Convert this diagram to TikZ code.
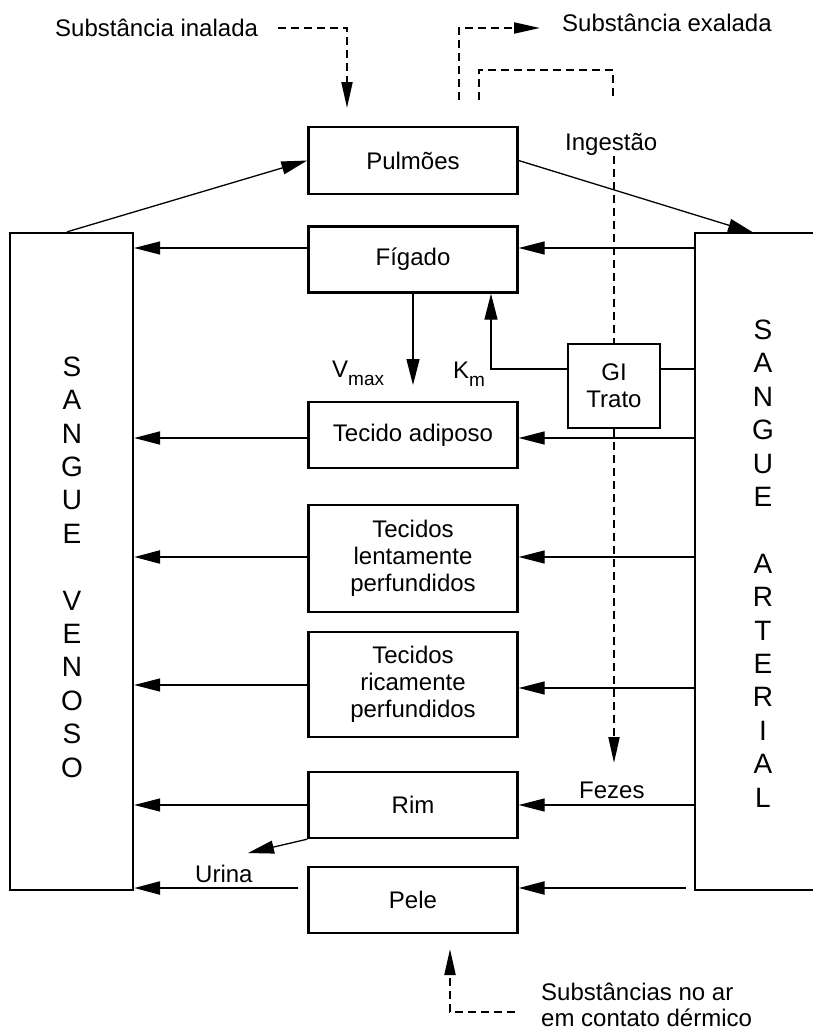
\documentclass[tikz,border=0pt]{standalone}
\usepackage{fontspec}
\setmainfont{Liberation Sans}
\usetikzlibrary{arrows.meta}
\newcommand\labfont{\fontsize{24pt}{27pt}\selectfont}
\newcommand\subfont{\fontsize{19pt}{19pt}\selectfont}
\newcommand\bigletters{\fontsize{28pt}{33.4pt}\selectfont}

\begin{document}
\begin{tikzpicture}[x=1pt,y=-1pt,
  organ/.style={draw, line width=2.3pt, minimum width=209pt, minimum height=66pt,
                inner sep=0pt, align=center, font=\labfont},
  txt/.style={inner sep=0pt, font=\labfont, anchor=base west},
  column/.style={inner sep=0pt, align=center, font=\bigletters},
  wire/.style={line width=1.3pt},
  flow/.style={line width=1.3pt, -{Triangle[length=26pt,width=13pt]}},
  flowmid/.style={flow, line width=1.9pt},
  flowthick/.style={flow, line width=2.4pt},
  dashflow/.style={line width=2pt, dash pattern=on 8pt off 5pt},
  dhead/.style={-{Triangle[length=26pt,width=11pt]}},
]
\fill[white] (0,0) rectangle (813,1033);
\useasboundingbox (0,0) rectangle (813,1033);

% organ compartments
\node[organ, minimum height=67pt] (pulmoes) at (413,160.5) {Pulmões};
\node[organ] (figado)  at (413,259.5) {Fígado};
\node[organ] (adiposo) at (413,435)   {Tecido adiposo};
\node[organ, minimum height=107pt] (lento) at (413,558.5) {Tecidos\\lentamente\\perfundidos};
\node[organ, minimum height=105pt] (rico)  at (413,684.5) {Tecidos\\ricamente\\perfundidos};
\node[organ] (rim)  at (413,805) {Rim};
\node[organ] (pele) at (413,900) {Pele};
\node[organ, minimum width=92pt, minimum height=84pt] (gi) at (614,386) {GI\\Trato};

% blood pools
\node[draw, line width=2.3pt, minimum width=123pt, minimum height=657pt, inner sep=0pt]
  (venoso) at (71.5,561.5) {};
\node[minimum width=118pt, minimum height=657pt, inner sep=0pt, outer sep=0pt]
  (arterial) at (754,561.5) {};
\draw[line width=2.3pt] (arterial.north east) -- (arterial.north west)
  -- (arterial.south west) -- (arterial.south east);
\node[column] (venosotxt) at (72,567)
  {S\\A\\N\\G\\U\\E\\[33.4pt]V\\E\\N\\O\\S\\O};
\node[column] (arterialtxt) at (763,563.5)
  {S\\A\\N\\G\\U\\E\\[33.4pt]A\\R\\T\\E\\R\\I\\A\\L};

% free labels
\node[txt] (inal)   at (55,37)    {Substância inalada};
\node[txt] (exal)   at (562,32)   {Substância exalada};
\node[txt] (ingest) at (565,150)  {Ingestão};
\node[txt] (fezes)  at (579,798)  {Fezes};
\node[txt] (urina)  at (195,882)  {Urina};
\node[txt] (dermA)  at (541,1000) {Substâncias no ar};
\node[txt] (dermB)  at (541,1026) {em contato dérmico};
\node[txt] (vmax)   at (332,377)  {V\raisebox{-8pt}{\subfont max}};
\node[txt] (km)     at (453,378)  {K\raisebox{-8pt}{\subfont m}};

% pulmonary loop
\draw[flow] ([xshift=-4.5pt]venoso.north) -- (pulmoes.west);
\draw[flow] (pulmoes.east) -- (arterial.north);

% venous return
\draw[flow]      (figado.west |- 0,248)  -- (venoso.east |- 0,248);
\draw[flowmid]   (adiposo.west |- 0,438) -- (venoso.east |- 0,438);
\draw[flowthick] (lento.west |- 0,557)   -- (venoso.east |- 0,557);
\draw[flow]      (rico.west |- 0,685)    -- (venoso.east |- 0,685);
\draw[flow]      (rim.west |- 0,805)     -- (venoso.east |- 0,805);
\draw[flowthick] ([xshift=-9pt]pele.west |- 0,888) -- (venoso.east |- 0,888);

% arterial supply
\draw[flow]      (arterial.west |- 0,248) -- (figado.east |- 0,248);
\draw[flow]      (arterial.west |- 0,438) -- (adiposo.east |- 0,438);
\draw[flow]      (arterial.west |- 0,557) -- (lento.east |- 0,557);
\draw[flow]      (arterial.west |- 0,688) -- (rico.east |- 0,688);
\draw[flow]      (arterial.west |- 0,805) -- (rim.east |- 0,805);
\draw[flowthick] ([xshift=-9pt]arterial.west |- 0,888) -- (pele.east |- 0,888);
\draw[wire]      (arterial.west |- 0,369) -- (gi.east |- 0,369);
\coordinate (fzA) at (563,805);
\coordinate (fzB) at (648,805);
\draw[line width=2.4pt] (fzA) -- (fzB);

% hepatic metabolism and GI uptake
\draw[flow] (figado.south) -- (figado.south |- 0,385);
\draw[flow] (gi.west |- 0,369) -| (figado.south -| 491,0);

% urine
\coordinate (urTip) at (248,853);
\draw[flow] (rim.south west) -- (urTip);

% exposure and elimination routes (dashed)
\coordinate (inA) at (278,28);
\coordinate (inB) at (347,108);
\draw[dashflow, dhead] (inA) -| (inB);
\coordinate (exA) at (459,100);
\coordinate (exB) at (540,28);
\draw[dashflow, dhead] (exA) |- (exB);
\coordinate (lpA) at (479,100);
\coordinate (lpB) at (613,70);
\coordinate (lpC) at (613,100);
\draw[dashflow] (lpA) |- (lpB) -- (lpC);
\draw[dashflow] (gi.north |- 0,156) -- (gi.north);
\draw[dashflow, dhead] (gi.south) -- (gi.south |- 0,763);
\coordinate (dmA) at (515,1012);
\coordinate (dmB) at (450,949);
\draw[dashflow, dhead] (dmA) -| (dmB);
\end{tikzpicture}
\end{document}
